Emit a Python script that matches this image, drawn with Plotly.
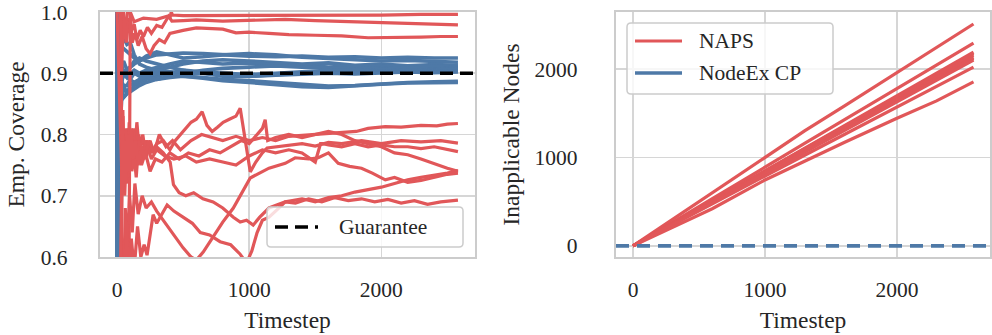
import plotly.graph_objects as go

# ---------------- data ----------------
RED = "#e15759"
BLUE = "#4e79a7"

guarantee = 0.9
nodeex_inapplicable = 0

# NodeEx CP empirical coverage (10 runs), shared timesteps
nodeex_t = [0, 2, 5, 10, 20, 35, 50, 75, 100, 130, 170, 220, 300, 400, 500, 650,
            800, 1000, 1200, 1400, 1600, 1800, 2000, 2200, 2400, 2580]
nodeex_cov_1 = [1.0, 0.0, 0.8, 0.9, 0.95, 0.943, 0.94, 0.935, 0.93, 0.925, 0.92, 0.925, 0.93, 0.932, 0.933, 0.932, 0.93, 0.928, 0.927, 0.928, 0.926, 0.927, 0.925, 0.926, 0.925, 0.925]
nodeex_cov_2 = [0.0, 1.0, 0.6, 0.9, 0.9, 0.914, 0.92, 0.905, 0.91, 0.915, 0.92, 0.928, 0.935, 0.93, 0.925, 0.927, 0.93, 0.932, 0.93, 0.926, 0.924, 0.922, 0.92, 0.921, 0.919, 0.918]
nodeex_cov_3 = [1.0, 1.0, 1.0, 0.9, 0.95, 0.943, 0.96, 0.947, 0.95, 0.93, 0.915, 0.91, 0.905, 0.91, 0.915, 0.92, 0.922, 0.92, 0.918, 0.915, 0.917, 0.913, 0.915, 0.912, 0.914, 0.913]
nodeex_cov_4 = [0.0, 0.5, 0.4, 0.8, 0.85, 0.886, 0.9, 0.893, 0.9, 0.905, 0.9, 0.905, 0.91, 0.915, 0.92, 0.918, 0.915, 0.917, 0.914, 0.913, 0.91, 0.912, 0.911, 0.91, 0.911, 0.910]
nodeex_cov_5 = [1.0, 1.0, 0.8, 1.0, 0.9, 0.886, 0.88, 0.88, 0.89, 0.9, 0.895, 0.9, 0.905, 0.903, 0.9, 0.905, 0.908, 0.91, 0.912, 0.91, 0.908, 0.907, 0.909, 0.908, 0.907, 0.908]
nodeex_cov_6 = [0.0, 0.67, 0.6, 0.8, 0.85, 0.857, 0.86, 0.867, 0.87, 0.88, 0.885, 0.89, 0.895, 0.9, 0.905, 0.902, 0.9, 0.898, 0.9, 0.902, 0.905, 0.904, 0.906, 0.905, 0.906, 0.906]
nodeex_cov_7 = [1.0, 0.67, 1.0, 0.9, 0.9, 0.914, 0.9, 0.907, 0.91, 0.92, 0.925, 0.92, 0.915, 0.91, 0.905, 0.9, 0.895, 0.895, 0.898, 0.9, 0.9, 0.902, 0.903, 0.904, 0.903, 0.904]
nodeex_cov_8 = [1.0, 0.5, 0.6, 0.7, 0.8, 0.857, 0.88, 0.867, 0.88, 0.885, 0.89, 0.895, 0.89, 0.895, 0.898, 0.9, 0.897, 0.895, 0.897, 0.898, 0.9, 0.899, 0.901, 0.902, 0.901, 0.902]
nodeex_cov_9 = [0.0, 1.0, 1.0, 0.7, 0.9, 0.886, 0.9, 0.893, 0.89, 0.885, 0.89, 0.895, 0.9, 0.897, 0.895, 0.893, 0.89, 0.888, 0.885, 0.882, 0.879, 0.88, 0.883, 0.885, 0.886, 0.887]
nodeex_cov_10 = [1.0, 0.33, 0.6, 0.8, 0.85, 0.857, 0.86, 0.867, 0.87, 0.875, 0.88, 0.885, 0.89, 0.893, 0.895, 0.892, 0.888, 0.885, 0.882, 0.878, 0.877, 0.88, 0.882, 0.884, 0.885, 0.885]

# NAPS empirical coverage (10 runs)
naps_t_1 = [0, 25, 30, 45, 60, 80, 100, 130, 200, 300, 380, 400, 410, 420, 500, 700, 1000, 1300, 1600, 2000, 2300, 2580]
naps_cov_1 = [1.0, 1.0, 0.97, 1.0, 0.97, 1.0, 1.0, 0.984, 0.99, 0.988, 0.993, 0.99, 1.0, 0.995, 0.994, 0.994, 0.995, 0.995, 0.995, 0.995, 0.996, 0.996]
naps_t_2 = [0, 28, 34, 50, 70, 90, 110, 130, 150, 175, 200, 230, 260, 300, 340, 390, 400, 415, 500, 600, 800, 1000, 1273, 1500, 1800, 2100, 2400, 2580]
naps_cov_2 = [1.0, 1.0, 0.9, 1.0, 0.95, 0.99, 0.97, 0.98, 0.955, 0.97, 0.96, 0.975, 0.965, 0.978, 0.975, 0.993, 0.99, 0.985, 0.986, 0.987, 0.985, 0.986, 0.988, 0.986, 0.984, 0.981, 0.98, 0.979]
naps_t_3 = [0, 90, 100, 115, 135, 160, 190, 220, 250, 280, 320, 360, 400, 450, 500, 600, 700, 800, 900, 1000, 1150, 1300, 1500, 1700, 1900, 2100, 2300, 2450, 2580]
naps_cov_3 = [0.0, 0.55, 1.0, 0.95, 0.965, 0.945, 0.96, 0.94, 0.932, 0.945, 0.955, 0.95, 0.965, 0.968, 0.97, 0.974, 0.973, 0.972, 0.966, 0.967, 0.965, 0.963, 0.962, 0.961, 0.958, 0.958, 0.959, 0.96, 0.96]
naps_t_4 = [0, 30, 36, 44, 52, 60, 72, 85, 100, 115, 130, 150, 170, 195, 220, 250, 280, 320, 370, 420, 480, 560, 640, 720, 800, 900, 1000, 1100, 1200, 1300, 1420, 1523, 1650, 1810, 1900, 2030, 2150, 2300, 2420, 2500, 2580]
naps_cov_4 = [1.0, 1.0, 0.72, 0.84, 0.74, 0.80, 0.72, 0.81, 0.75, 0.80, 0.76, 0.82, 0.77, 0.80, 0.76, 0.79, 0.77, 0.80, 0.78, 0.79, 0.775, 0.79, 0.80, 0.795, 0.79, 0.797, 0.79, 0.795, 0.79, 0.797, 0.799, 0.80, 0.803, 0.805, 0.81, 0.813, 0.812, 0.815, 0.814, 0.817, 0.818]
naps_t_5 = [0, 26, 35, 45, 55, 68, 80, 95, 110, 125, 145, 165, 190, 220, 260, 300, 350, 400, 440, 480, 520, 560, 600, 644, 680, 720, 760, 803, 850, 900, 932, 950, 975, 1008, 1050, 1100, 1136, 1200, 1300, 1400, 1500, 1600, 1700, 1850, 2000, 2150, 2300, 2450, 2580]
naps_cov_5 = [0.0, 0.0, 0.78, 0.83, 0.73, 0.81, 0.74, 0.80, 0.75, 0.81, 0.76, 0.80, 0.77, 0.79, 0.77, 0.785, 0.79, 0.775, 0.79, 0.80, 0.81, 0.82, 0.825, 0.837, 0.815, 0.805, 0.812, 0.82, 0.825, 0.83, 0.843, 0.82, 0.78, 0.739, 0.755, 0.77, 0.778, 0.78, 0.782, 0.785, 0.781, 0.787, 0.785, 0.79, 0.785, 0.79, 0.788, 0.79, 0.786]
naps_t_6 = [0, 32, 42, 52, 64, 78, 92, 108, 125, 140, 160, 185, 215, 250, 290, 340, 400, 470, 540, 620, 700, 780, 860, 940, 1000, 1060, 1100, 1121, 1140, 1200, 1300, 1400, 1500, 1600, 1700, 1800, 1900, 2000, 2100, 2200, 2300, 2400, 2500, 2580]
naps_cov_6 = [0.0, 0.7, 0.80, 0.72, 0.79, 0.73, 0.82, 0.75, 0.79, 0.74, 0.78, 0.75, 0.77, 0.74, 0.76, 0.755, 0.77, 0.76, 0.77, 0.765, 0.775, 0.77, 0.78, 0.79, 0.785, 0.80, 0.81, 0.824, 0.79, 0.795, 0.80, 0.795, 0.80, 0.805, 0.80, 0.79, 0.785, 0.78, 0.77, 0.767, 0.76, 0.752, 0.745, 0.740]
naps_t_7 = [0, 38, 48, 58, 70, 84, 98, 112, 128, 145, 165, 190, 220, 260, 300, 360, 430, 520, 600, 700, 800, 900, 1000, 1100, 1200, 1300, 1400, 1500, 1540, 1560, 1600, 1700, 1800, 1900, 2000, 2100, 2200, 2300, 2400, 2500, 2580]
naps_cov_7 = [1.0, 0.72, 0.78, 0.70, 0.77, 0.73, 0.79, 0.74, 0.77, 0.73, 0.79, 0.76, 0.79, 0.76, 0.775, 0.765, 0.76, 0.765, 0.755, 0.76, 0.755, 0.75, 0.765, 0.775, 0.77, 0.775, 0.77, 0.755, 0.785, 0.785, 0.783, 0.78, 0.785, 0.78, 0.783, 0.78, 0.78, 0.777, 0.78, 0.775, 0.772]
naps_t_8 = [0, 40, 47, 57, 68, 80, 93, 107, 122, 140, 160, 185, 210, 240, 270, 300, 350, 402, 427, 470, 520, 580, 650, 727, 800, 880, 932, 980, 1030, 1080, 1150, 1273, 1400, 1500, 1600, 1700, 1800, 1900, 2000, 2100, 2200, 2300, 2400, 2500, 2580]
naps_cov_8 = [0.0, 0.82, 0.71, 0.79, 0.72, 0.80, 0.74, 0.81, 0.76, 0.79, 0.75, 0.78, 0.76, 0.79, 0.775, 0.78, 0.77, 0.755, 0.718, 0.705, 0.70, 0.705, 0.695, 0.69, 0.68, 0.665, 0.657, 0.66, 0.652, 0.665, 0.68, 0.69, 0.695, 0.69, 0.697, 0.70, 0.706, 0.71, 0.714, 0.72, 0.726, 0.73, 0.733, 0.737, 0.741]
naps_t_9 = [0, 48, 62, 78, 95, 115, 135, 160, 190, 220, 260, 300, 350, 400, 450, 500, 560, 600, 652, 720, 800, 880, 932, 1008, 1060, 1150, 1273, 1348, 1450, 1523, 1600, 1674, 1760, 1850, 1932, 2030, 2100, 2200, 2300, 2400, 2500, 2580]
naps_cov_9 = [0.0, 0.58, 0.68, 0.62, 0.70, 0.64, 0.72, 0.67, 0.70, 0.68, 0.69, 0.675, 0.66, 0.645, 0.63, 0.615, 0.60, 0.595, 0.608, 0.63, 0.657, 0.68, 0.701, 0.729, 0.735, 0.745, 0.753, 0.762, 0.76, 0.762, 0.77, 0.753, 0.748, 0.745, 0.737, 0.726, 0.73, 0.722, 0.725, 0.73, 0.735, 0.737]
naps_t_10 = [0, 55, 70, 88, 108, 130, 155, 180, 205, 227, 250, 273, 300, 340, 379, 430, 500, 570, 630, 700, 780, 860, 930, 980, 1020, 1060, 1100, 1150, 1200, 1273, 1350, 1450, 1550, 1650, 1750, 1850, 1950, 2050, 2150, 2250, 2350, 2450, 2580]
naps_cov_10 = [0.0, 0.5, 0.66, 0.56, 0.63, 0.58, 0.65, 0.6, 0.62, 0.603, 0.64, 0.669, 0.655, 0.67, 0.685, 0.675, 0.665, 0.655, 0.64, 0.636, 0.625, 0.62, 0.605, 0.59, 0.61, 0.64, 0.66, 0.665, 0.675, 0.69, 0.688, 0.695, 0.69, 0.697, 0.692, 0.695, 0.69, 0.694, 0.688, 0.692, 0.686, 0.69, 0.693]

# NAPS inapplicable nodes (10 runs)
inapp_t = [0, 300, 600, 1000, 1300, 1600, 2000, 2300, 2580]
naps_inapp_1 = [0, 300, 600, 1010, 1300, 1580, 1960, 2240, 2510]
naps_inapp_2 = [0, 265, 530, 890, 1160, 1425, 1785, 2050, 2294]
naps_inapp_3 = [0, 255, 510, 855, 1110, 1360, 1700, 1955, 2192]
naps_inapp_4 = [0, 250, 505, 845, 1100, 1350, 1690, 1940, 2175]
naps_inapp_5 = [0, 255, 510, 850, 1095, 1345, 1680, 1925, 2158]
naps_inapp_6 = [0, 245, 495, 830, 1080, 1325, 1660, 1905, 2135]
naps_inapp_7 = [0, 250, 500, 830, 1075, 1320, 1650, 1890, 2120]
naps_inapp_8 = [0, 245, 490, 820, 1065, 1305, 1635, 1875, 2102]
naps_inapp_9 = [0, 240, 475, 790, 1025, 1260, 1575, 1805, 2023]
naps_inapp_10 = [0, 215, 420, 746, 960, 1170, 1443, 1640, 1855]

x_ticks = [0, 1000, 2000]
cov_ticks = [0.6, 0.7, 0.8, 0.9, 1.0]
inapp_ticks = [0, 1000, 2000]

nodeex_cov_runs = [nodeex_cov_1, nodeex_cov_2, nodeex_cov_3, nodeex_cov_4, nodeex_cov_5,
                   nodeex_cov_6, nodeex_cov_7, nodeex_cov_8, nodeex_cov_9, nodeex_cov_10]
naps_cov_runs = [(naps_t_1, naps_cov_1), (naps_t_2, naps_cov_2), (naps_t_3, naps_cov_3),
                 (naps_t_4, naps_cov_4), (naps_t_5, naps_cov_5), (naps_t_6, naps_cov_6),
                 (naps_t_7, naps_cov_7), (naps_t_8, naps_cov_8), (naps_t_9, naps_cov_9),
                 (naps_t_10, naps_cov_10)]
naps_inapp_runs = [naps_inapp_1, naps_inapp_2, naps_inapp_3, naps_inapp_4, naps_inapp_5,
                   naps_inapp_6, naps_inapp_7, naps_inapp_8, naps_inapp_9, naps_inapp_10]

# ---------------- figure ----------------
W, H = 992, 335
FONT = "Liberation Serif"
TXT = "#262626"
LW_RED = 3.2
LW_BLUE = 3.6
DASH_K = "13px,7px"
DASH_B = "13px,8px"

fig = go.Figure()

for ys in nodeex_cov_runs:
    fig.add_trace(go.Scatter(x=nodeex_t, y=ys, mode="lines", line=dict(color=BLUE, width=LW_BLUE),
                             showlegend=False, xaxis="x", yaxis="y", hoverinfo="skip"))
for ts, ys in naps_cov_runs:
    fig.add_trace(go.Scatter(x=ts, y=ys, mode="lines", line=dict(color=RED, width=LW_RED),
                             showlegend=False, xaxis="x", yaxis="y", hoverinfo="skip"))
for ys in naps_inapp_runs:
    fig.add_trace(go.Scatter(x=inapp_t, y=ys, mode="lines", line=dict(color=RED, width=LW_RED),
                             name="NAPS", showlegend=False,
                             xaxis="x2", yaxis="y2", hoverinfo="skip"))

fig.add_hline(y=guarantee, line=dict(color="black", width=3.4, dash=DASH_K),
              xref="x", yref="y", layer="above")
fig.add_hline(y=nodeex_inapplicable, line=dict(color=BLUE, width=LW_BLUE, dash=DASH_B),
              xref="x2", yref="y2", layer="above")

grid = "#d6d6d6"
frame = "#cccccc"
tickfont = dict(family=FONT, size=21.5, color=TXT)
titlefont = dict(family=FONT, size=23.5, color=TXT)


def axis_common():
    return dict(showgrid=True, gridcolor=grid, gridwidth=1.6, zeroline=False,
                showline=True, linecolor=frame, linewidth=2.2, mirror=True,
                ticks="outside", tickcolor="rgba(0,0,0,0)", tickfont=tickfont,
                automargin=False)


ytop = 1 - 12 / H
ybot = 1 - 257 / H

fig.update_layout(
    width=W, height=H,
    margin=dict(l=0, r=0, t=0, b=0, autoexpand=False),
    paper_bgcolor="white", plot_bgcolor="white",
    font=dict(family=FONT, color=TXT),
    showlegend=False,
    xaxis=dict(domain=[100 / W, 475 / W], range=[-129, 2709], tickvals=x_ticks,
               ticklen=12, title=dict(text="Timestep", font=titlefont, standoff=11),
               anchor="y", **axis_common()),
    yaxis=dict(domain=[ybot, ytop], range=[0.6, 1.0], tickvals=cov_ticks, tickformat=".1f",
               ticklen=26, title=dict(text="Emp. Coverage", font=titlefont, standoff=10),
               anchor="x", **axis_common()),
    xaxis2=dict(domain=[616 / W, 990 / W], range=[-129, 2705], tickvals=x_ticks,
                ticklen=12, title=dict(text="Timestep", font=titlefont, standoff=11),
                anchor="y2", **axis_common()),
    yaxis2=dict(domain=[ybot, ytop], range=[-126, 2646], tickvals=inapp_ticks,
                ticklen=32, title=dict(text="Inapplicable Nodes", font=titlefont, standoff=8),
                anchor="x2", **axis_common()),
)


# ---- legends (drawn as boxes, sample lines and text in pixel space) ----
def px(x):
    return x / W


def py(y):
    return 1 - y / H


def rounded_box(x0, y0, x1, y1, r=4):
    X0, X1 = px(x0), px(x1)
    Y0, Y1 = py(y0), py(y1)
    rx, ry = r / W, r / H
    return (f"M {X0+rx},{Y0} L {X1-rx},{Y0} Q {X1},{Y0} {X1},{Y0-ry} "
            f"L {X1},{Y1+ry} Q {X1},{Y1} {X1-rx},{Y1} L {X0+rx},{Y1} "
            f"Q {X0},{Y1} {X0},{Y1+ry} L {X0},{Y0-ry} Q {X0},{Y0} {X0+rx},{Y0} Z")


legend_specs = [
    dict(box=(267, 207, 463, 247),
         items=[("Guarantee", "black", 3.4, DASH_K, 275, 318, 227, 337)]),
    dict(box=(627, 23, 833, 94),
         items=[("NAPS", RED, LW_RED, "solid", 635, 682, 41, 697),
                ("NodeEx CP", BLUE, LW_BLUE, "solid", 635, 682, 73, 697)]),
]

for spec in legend_specs:
    x0, y0, x1, y1 = spec["box"]
    fig.add_shape(type="path", path=rounded_box(x0, y0, x1, y1), xref="paper", yref="paper",
                  fillcolor="rgba(255,255,255,0.8)", line=dict(color=frame, width=1.5),
                  layer="above")
    for label, color, width, dash, lx0, lx1, ly, tx in spec["items"]:
        fig.add_shape(type="line", x0=px(lx0), x1=px(lx1), y0=py(ly), y1=py(ly),
                      xref="paper", yref="paper", line=dict(color=color, width=width, dash=dash),
                      layer="above")
        fig.add_annotation(text=label, x=px(tx), y=py(ly), xref="paper", yref="paper",
                           xanchor="left", yanchor="middle", showarrow=False,
                           font=dict(family=FONT, size=21.5, color=TXT))

fig.write_html("out.html", config={"displayModeBar": False, "staticPlot": True})

# remove the default page margin so the figure sits at the window's top-left corner
with open("out.html", "r", encoding="utf-8") as f:
    html = f.read()
html = html.replace("<head>", "<head><style>html,body{margin:0;padding:0;overflow:hidden;}</style>", 1)
with open("out.html", "w", encoding="utf-8") as f:
    f.write(html)
